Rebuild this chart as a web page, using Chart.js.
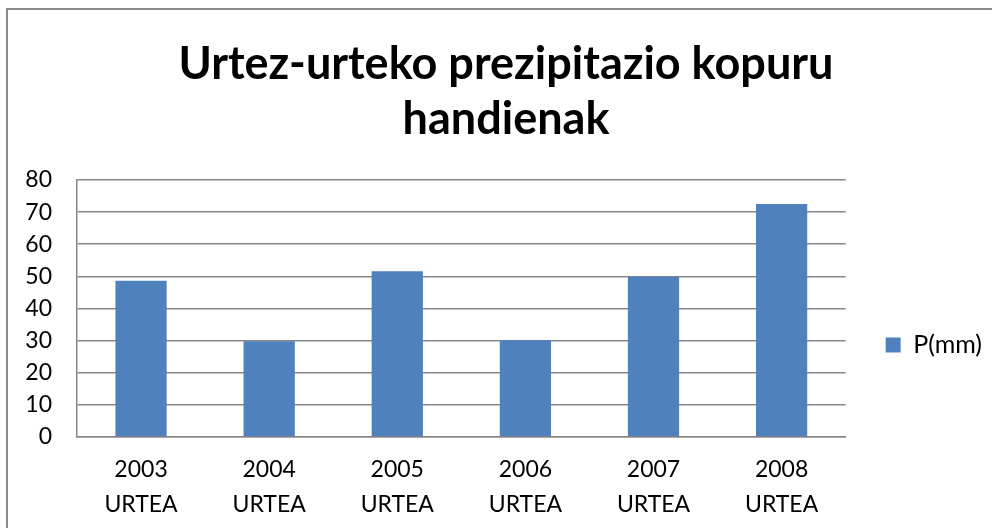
<!DOCTYPE html>
<html>
<head>
<meta charset="utf-8">
<script src="https://cdn.jsdelivr.net/npm/chart.js@4"></script>
<style>
  html, body { margin: 0; padding: 0; background: #fff; overflow: hidden; }
  #wrap { position: relative; width: 992px; height: 528px; }
  #marco { position: absolute; left: 6px; top: 8px; width: 1000px; height: 600px;
           border-left: 2px solid #8c8c8c; border-top: 2px solid #8c8c8c; pointer-events: none; }
  canvas { position: absolute; left: 0; top: 0; }
</style>
</head>
<body>
<div id="wrap">
  <canvas id="grafico" width="992" height="528"></canvas>
  <div id="marco"></div>
</div>
<script>
// Datos
const urteak = ['2003', '2004', '2005', '2006', '2007', '2008'];
const atzizkia = 'URTEA';
const prezipitazioa = [48.6, 29.8, 51.6, 30.1, 49.9, 72.5];
const izenburua = ['Urtez-urteko prezipitazio kopuru', 'handienak'];
const serieIzena = 'P(mm)';

const etiketak = urteak.map(u => [u, atzizkia]);

Chart.defaults.color = '#000';
Chart.defaults.font.family = 'Lato';

new Chart(document.getElementById('grafico'), {
    type: 'bar',
    data: {
        labels: etiketak,
        datasets: [{
            label: serieIzena,
            data: prezipitazioa,
            backgroundColor: '#4f81bd',
            categoryPercentage: 1,
            barPercentage: 0.4
        }]
    },
    options: {
        responsive: false,
        animation: false,
        layout: { padding: { left: 20, right: 0, top: 0, bottom: 0 } },
        plugins: {
            title: {
                display: true,
                text: izenburua,
                font: { size: 45, weight: 'bold', lineHeight: 1.222 },
                padding: { top: 37, bottom: 33 }
            },
            legend: {
                position: 'right',
                maxWidth: 150,
                // título vacío para bajar la leyenda como en el original
                title: { display: true, text: ' ', font: { size: 10 }, padding: { top: 0, bottom: 150 } },
                labels: {
                    boxWidth: 15, boxHeight: 15, padding: 40,
                    font: { size: 25 }
                }
            },
            tooltip: { enabled: false }
        },
        scales: {
            x: {
                grid: { display: false, drawTicks: false },
                border: { display: true, color: '#878787', width: 1.5 },
                ticks: { padding: 15, font: { size: 23, lineHeight: 1.52 }, maxRotation: 0 },
                afterFit: (eje) => { eje.height = 91; }
            },
            y: {
                min: 0, max: 80,
                ticks: { stepSize: 10, padding: 25, font: { size: 23 } },
                grid: { color: '#878787', lineWidth: 1.5, drawTicks: false },
                border: { display: true, color: '#878787', width: 1.5 },
                afterFit: (eje) => { eje.width = 57; }
            }
        }
    }
});
</script>
</body>
</html>
